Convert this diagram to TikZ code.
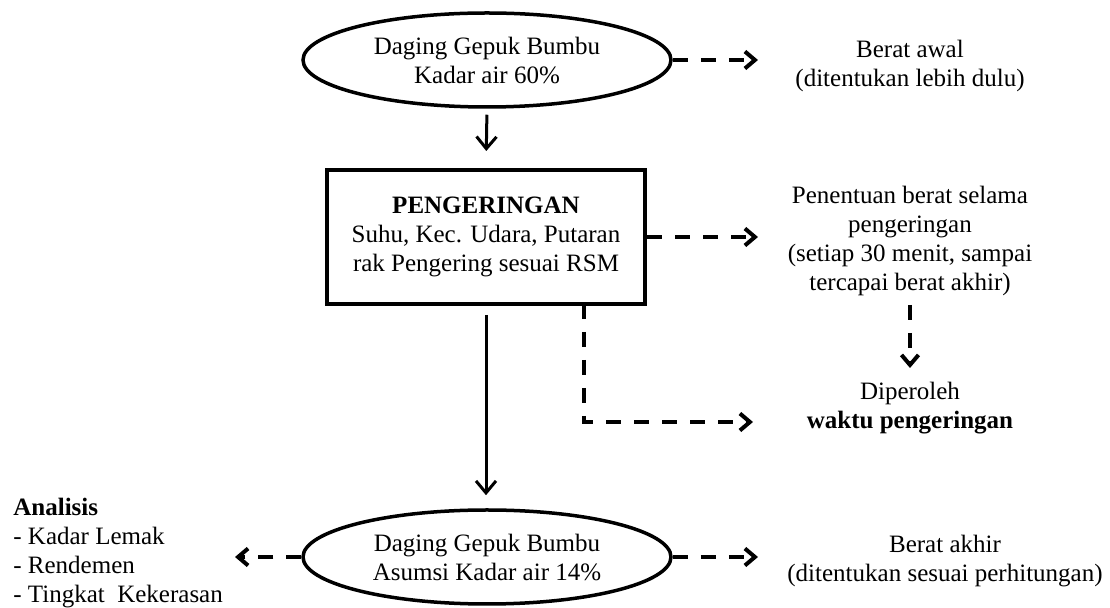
\documentclass[tikz,border=0pt]{standalone}
\usepackage{fontspec}
\setmainfont{Liberation Serif}
\usetikzlibrary{shapes.geometric,arrows.meta}
\begin{document}
\begin{tikzpicture}[x=0.5pt,y=-0.5pt,
  every node/.style={font=\fontsize{12.5pt}{14.5pt}\selectfont, align=center},
  ovalbox/.style={ellipse, draw, line width=1.75pt, minimum width=184pt, minimum height=47pt, inner sep=0pt},
  procbox/.style={rectangle, draw, line width=2pt, minimum width=159pt, minimum height=67pt, inner sep=0pt},
  plaintext/.style={inner sep=0pt},
  solidarrow/.style={line width=1.5pt, -{Straight Barb[length=6pt,width=10pt]}},
  dasharrow/.style={line width=2pt, dash pattern=on 7.5pt off 6.5pt, -{Straight Barb[length=5pt,width=8.5pt]}},
  dashline/.style={line width=2pt, dash pattern=on 7.5pt off 6.5pt}
]
\useasboundingbox (0,0) rectangle (1110,608);

% main nodes
\node[ovalbox] (e1) at (487,60) {Daging Gepuk Bumbu\\Kadar air 60\%};
\node[procbox] (box) at (486,237) {\textbf{PENGERINGAN}\\Suhu, Kec. Udara, Putaran\\rak Pengering sesuai RSM};
\node[ovalbox] (e2) at (487,557) {Daging Gepuk Bumbu\\Asumsi Kadar air 14\%};

% side texts
\node[plaintext] (t1) at (910,66) {Berat awal\\(ditentukan lebih dulu)};
\node[plaintext] (t2) at (910,241) {Penentuan berat selama\\pengeringan\\(setiap 30 menit, sampai\\tercapai berat akhir)};
\node[plaintext] (t3) at (910,408) {Diperoleh\\\textbf{waktu pengeringan}};
\node[plaintext] (t4) at (945,561) {Berat akhir\\(ditentukan sesuai perhitungan)};
\node[plaintext, anchor=west, align=left] (t5) at (13,553) {\textbf{Analisis}\\- Kadar Lemak\\- Rendemen\\- Tingkat\ \ Kekerasan};

% arrow end points
\coordinate (a1) at (758,60);
\coordinate (a2) at (758,237);
\coordinate (c1) at (910,305);
\coordinate (c2) at (910,368);
\coordinate (l0) at (584,304);
\coordinate (a3) at (753,422);
\coordinate (a4) at (235,557);
\coordinate (a5) at (758,557);

% solid arrows
\draw[solidarrow, shorten <=3pt, shorten >=8.5pt] (e1.south) -- (box.north);
\draw[solidarrow, shorten <=4.5pt, shorten >=6.5pt] (box.south) -- (box.south |- e2.north);

% dashed arrows
\draw[dasharrow] (e1.east) -- (a1);
\draw[dasharrow] (box.east) -- (a2);
\draw[dasharrow] (c1) -- (c2);
\draw[dasharrow] (l0) |- (a3);
\draw[dasharrow] (e2.west) -- (a4);
\draw[dasharrow] (e2.east) -- (a5);
\end{tikzpicture}
\end{document}
